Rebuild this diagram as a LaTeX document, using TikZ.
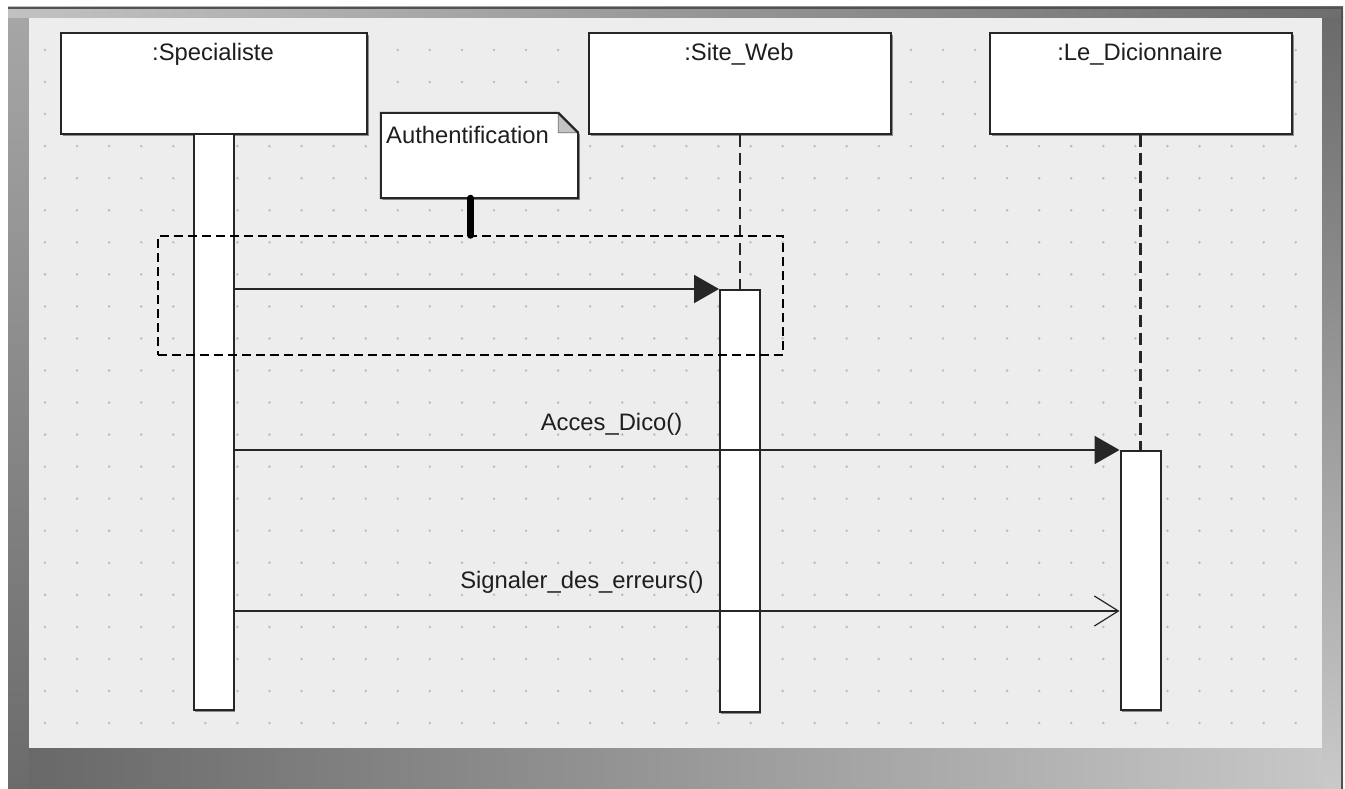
\documentclass[tikz,border=0pt]{standalone}
\usepackage{fontspec}
\setmainfont{Liberation Sans}
\usetikzlibrary{arrows.meta}

\definecolor{canvas}{HTML}{EDEDED}
\definecolor{griddot}{HTML}{BDBDBD}
\definecolor{ink}{HTML}{1E1E1E}
\definecolor{edge}{HTML}{262626}
\definecolor{foldgray}{HTML}{C4C4C4}

\tikzset{
  headbox/.style={draw=edge, line width=2pt, fill=white, inner sep=0pt,
    preaction={fill=black!45, transform canvas={xshift=1.6pt, yshift=-1.6pt}}},
  actbar/.style={draw=edge, line width=2pt, fill=white, inner sep=0pt, minimum width=40pt,
    preaction={fill=black!45, transform canvas={xshift=1.2pt, yshift=-1.6pt}}},
  lbl/.style={font=\fontsize{23.8}{28}\selectfont, text=ink, inner sep=0pt},
  lifeline/.style={draw=edge, line width=2.2pt, dash pattern=on 12pt off 6pt},
  fragment/.style={draw=black, line width=1.5pt, dash pattern=on 9pt off 5pt, inner sep=0pt},
  callmsg/.style={draw=edge, line width=2.2pt, -{Triangle[length=25pt,width=28pt]}},
  asyncmsg/.style={draw=edge, line width=2.2pt, -{Straight Barb[length=24pt,width=30pt,line width=1.2pt]}},
  noteline/.style={draw=black, line width=7pt, line cap=round},
}

\begin{document}
\begin{tikzpicture}[x=1pt, y=-1pt]
\useasboundingbox (0,0) rectangle (1345,789);

% window frame
\shade[top color=black!35, bottom color=black!58] (8,18) rectangle (29,789);
\shade[top color=black!58, bottom color=black!21] (1322,18) rectangle (1343,789);
\shade[left color=black!59, right color=black!22] (29,748) rectangle (1322,789);
\shade[left color=black!24, right color=black!57] (8,7) rectangle (1343,18);
\draw[black!68, line width=2pt] (8,8) -- (1343,8);
\draw[black!68, line width=2pt] (1342,7) -- (1342,789);

% drawing area with its dot grid
\fill[canvas] (29,18) rectangle (1322,748);
\foreach \i in {0,...,39}
  \foreach \j in {0,...,21}
    \fill[griddot] ({45+32.07*\i},{50+32.05*\j}) circle (1.4pt);

% lifeline heads
\node[headbox, minimum width=306pt, minimum height=101pt] (spec) at (214,83.5) {};
\node[headbox, minimum width=302pt, minimum height=101pt] (web)  at (740,83.5) {};
\node[headbox, minimum width=302pt, minimum height=101pt] (dico) at (1141,83.5) {};
\node[lbl, anchor=base] (specT) at (213,61) {:Specialiste};
\node[lbl, anchor=base] (webT)  at (739,61) {:Site\_Web};
\node[lbl, anchor=base] (dicoT) at (1140,61) {:Le\_Dicionnaire};

% activation bars
\node[actbar, minimum height=576pt] (specbar) at (214,422) {};
\node[actbar, minimum height=422pt] (webbar) at (740,501) {};
\node[actbar, minimum height=259pt] (dicobar) at (1140.5,580.5) {};

% dashed lifelines
\draw[lifeline] (web.south) -- (webbar.north);
\draw[lifeline] (dico.south -| dicobar.north) -- (dicobar.north);

% combined fragment and its note
\node[fragment, minimum width=625pt, minimum height=119pt] (frag) at (470.5,295.5) {};
\node[inner sep=0pt, minimum width=197pt, minimum height=85pt] (note) at (479.5,155.5) {};
\fill[black!45, transform canvas={xshift=1.6pt, yshift=-1.6pt}]
  (note.south west) -- (note.north west) -- ([xshift=-20pt]note.north east)
  -- ([yshift=-20pt]note.north east) -- (note.south east) -- cycle;
\filldraw[draw=edge, line width=2pt, fill=white]
  (note.south west) -- (note.north west) -- ([xshift=-20pt]note.north east)
  -- ([yshift=-20pt]note.north east) -- (note.south east) -- cycle;
\filldraw[draw=black!55, line width=0.6pt, fill=foldgray]
  ([xshift=-20pt]note.north east) -- ([yshift=-20pt]note.north east)
  -- ([xshift=-20pt,yshift=-20pt]note.north east) -- cycle;
\draw[edge, line width=2pt] ([xshift=-20pt]note.north east) -- ([yshift=-20pt]note.north east);
\node[lbl, anchor=base west] (noteT) at (386,144) {Authentification};
\draw[noteline] (note.south -| frag.north) -- (frag.north);

% messages
\draw[callmsg] (specbar.east |- webbar.north) -- (webbar.north west);
\draw[callmsg] (specbar.east |- dicobar.north) -- (dicobar.north west);
\coordinate (sigy) at (0,611);
\draw[asyncmsg] (specbar.east |- sigy) -- (dicobar.west |- sigy);
\node[lbl, anchor=base] (m2) at (611.5,430) {Acces\_Dico()};
\node[lbl, anchor=base] (m3) at (582,588) {Signaler\_des\_erreurs()};
\end{tikzpicture}
\end{document}
